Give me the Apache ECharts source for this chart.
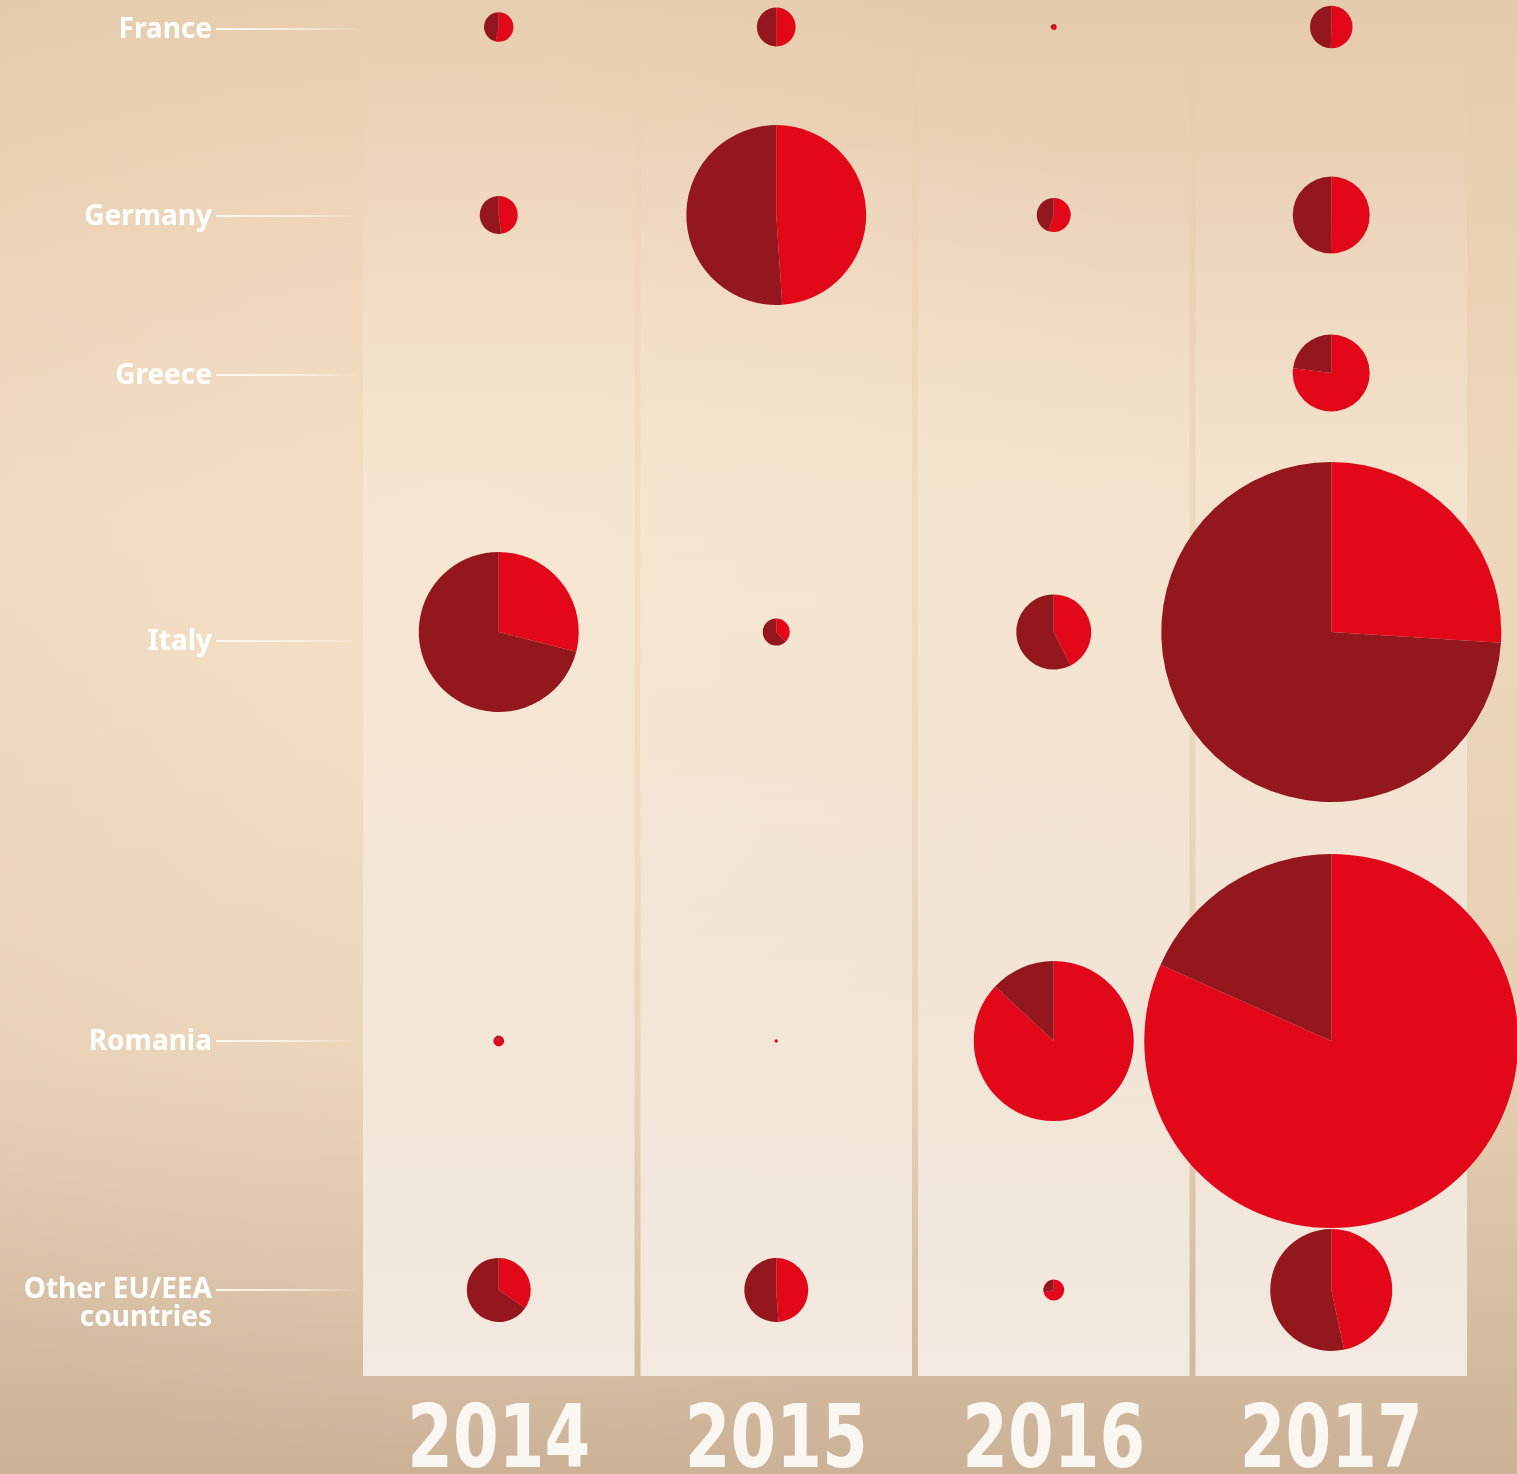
<!DOCTYPE html>
<html><head><meta charset="utf-8">
<script src="https://cdn.jsdelivr.net/npm/echarts@6/dist/echarts.min.js"></script>
<style>html,body{margin:0;padding:0;background:#e8d1b5}#c{width:1517px;height:1474px}</style>
</head><body><div id="c"></div>
<script>
// ---------- DATA ----------
const years = ['2014', '2015', '2016', '2017'];
const countries = ['France', 'Germany', 'Greece', 'Italy', 'Romania', 'Other EU/EEA\ncountries'];
// bright red share (drawn first, clockwise from 12 o'clock), per country, per year
const redCounts = [
  [40, 65, 2, 79],
  [60, 1370, 55, 257],
  [0, 0, 0, 395],
  [642, 24, 207, 2600],
  [9, 1, 1925, 9885],
  [122, 173, 27, 600]
];
// dark red share, per country, per year
const darkCounts = [
  [35, 65, 1, 78],
  [65, 1430, 45, 256],
  [0, 0, 0, 118],
  [1573, 39, 280, 7400],
  [1, 0, 290, 2215],
  [232, 181, 11, 688]
];

// ---------- LAYOUT / STYLE ----------
const RED = '#e20819', DARK = '#93171c';
const W = 1517, H = 1474;
const GRID = { left: 360, right: 47, top: 0, bottom: 98 };
const PLOT_H = H - GRID.top - GRID.bottom;
const rowY = [27, 215, 373, 632, 1041, 1290];     // pie row centres (axis units)
const labelY = [29, 216, 375, 641, 1041, 1290];   // label / leader line rows
const PX_PER_SQRT = 1.7;                           // radius = k * sqrt(total)
const PANEL_GAP = 6;

const chart = echarts.init(document.getElementById('c'), null, { renderer: 'canvas' });

chart.setOption({
  animation: false,
  backgroundColor: 'transparent',
  grid: { left: GRID.left, right: GRID.right, top: GRID.top, bottom: GRID.bottom,
          containLabel: false, outerBoundsMode: 'none' },
  xAxis: {
    type: 'category', data: years, boundaryGap: true,
    axisLine: { show: false }, axisTick: { show: false }, splitLine: { show: false },
    axisLabel: { show: false }
  },
  yAxis: { type: 'value', min: 0, max: PLOT_H, inverse: true, show: false },
  series: []
});

const yPx = v => chart.convertToPixel({ yAxisIndex: 0 }, v);
const xPx = c => chart.convertToPixel({ xAxisIndex: 0 }, c);
const bandW = (xPx(years[1]) - xPx(years[0]));
const plotBottom = yPx(PLOT_H);

const graphics = [];
// background
graphics.push({
  type: 'rect', z: -20, silent: true,
  shape: { x: 0, y: 0, width: W, height: H },
  style: { fill: new echarts.graphic.LinearGradient(0, 0, 0, 1, [
    { offset: 0, color: '#e5cbad' },
    { offset: 0.35, color: '#eed8bc' },
    { offset: 0.72, color: '#e6cfb3' },
    { offset: 1, color: '#cbb297' }
  ]) }
});
graphics.push({
  type: 'rect', z: -19, silent: true,
  shape: { x: 0, y: 0, width: W, height: H },
  style: { fill: new echarts.graphic.RadialGradient(0.3, 0.45, 0.55, [
    { offset: 0, color: 'rgba(252,232,208,0.5)' },
    { offset: 1, color: 'rgba(252,232,208,0)' }
  ]) }
});
// column panels
years.forEach(y => {
  const cx = xPx(y);
  graphics.push({
    type: 'rect', z: -10, silent: true,
    shape: { x: cx - bandW / 2 + PANEL_GAP / 2, y: yPx(0), width: bandW - PANEL_GAP, height: plotBottom - yPx(0) },
    style: { fill: new echarts.graphic.LinearGradient(0, 0, 0, 1, [
      { offset: 0, color: 'rgba(248,232,212,0)' },
      { offset: 0.1, color: 'rgba(248,232,212,0.05)' },
      { offset: 0.35, color: 'rgba(247,233,216,0.6)' },
      { offset: 1, color: 'rgba(242,233,224,1)' }
    ]) }
  });
  // year label (real text) under each column
  graphics.push({
    type: 'text', z: 5, silent: true,
    x: cx, y: plotBottom + 24, scaleX: 0.83, scaleY: 1,
    style: {
      text: y, x: 0, y: 0, align: 'center', verticalAlign: 'top',
      fill: '#faf7f3', fontSize: 88, fontWeight: 'bold',
      fontFamily: "'DejaVu Sans Condensed', 'DejaVu Sans', sans-serif"
    }
  });
});
// country labels + leader lines
countries.forEach((name, i) => {
  const y = yPx(labelY[i]);
  const multi = name.indexOf('\n') >= 0;
  graphics.push({
    type: 'text', z: 5, silent: true,
    style: {
      text: name, x: 212, y: multi ? y + 14 : y + 1,
      align: 'right', verticalAlign: 'middle',
      fill: '#ffffff', fontSize: 28, fontWeight: 'bold', lineHeight: 28,
      fontFamily: "'Noto Sans', sans-serif"
    }
  });
  graphics.push({
    type: 'line', z: 5, silent: true,
    shape: { x1: 216, y1: y, x2: 358, y2: y },
    style: { lineWidth: 2, stroke: new echarts.graphic.LinearGradient(0, 0, 1, 0, [
      { offset: 0, color: 'rgba(255,250,244,0.95)' },
      { offset: 0.6, color: 'rgba(255,250,244,0.6)' },
      { offset: 1, color: 'rgba(255,250,244,0)' }
    ], false) }
  });
});

// pies
const series = [];
countries.forEach((name, i) => {
  years.forEach((yr, j) => {
    const red = redCounts[i][j], dark = darkCounts[i][j];
    const total = red + dark;
    if (!total) return;
    series.push({
      type: 'pie', silent: true, animation: false,
      center: [xPx(yr), yPx(rowY[i])],
      radius: PX_PER_SQRT * Math.sqrt(total),
      startAngle: 90, clockwise: true, minAngle: 0,
      label: { show: false }, labelLine: { show: false },
      emphasis: { disabled: true },
      itemStyle: { borderWidth: 0 },
      data: [
        { name: 'red', value: red, itemStyle: { color: RED } },
        { name: 'dark', value: dark, itemStyle: { color: DARK } }
      ]
    });
  });
});

chart.setOption({ graphic: { elements: graphics }, series: series });
</script>
</body></html>
